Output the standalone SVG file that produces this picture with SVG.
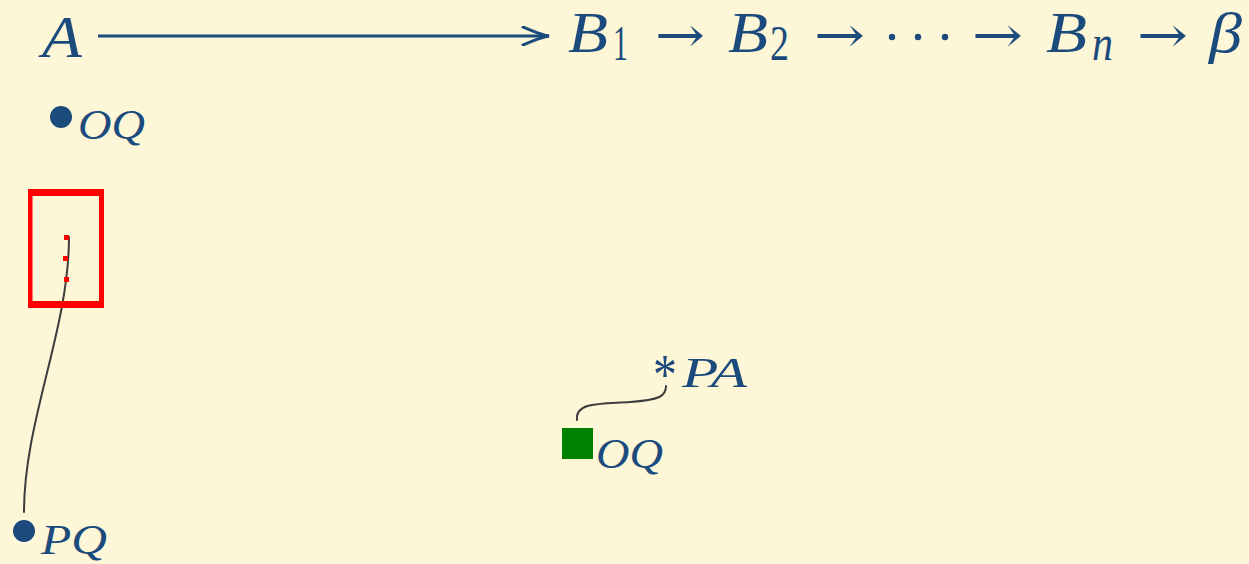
<svg xmlns="http://www.w3.org/2000/svg" width="1249" height="564" viewBox="0 0 1249 564">
<style>
.m{font-family:"Liberation Serif",serif;font-style:italic;fill:#1b4a7c}
.r{font-family:"Liberation Serif",serif;fill:#1b4a7c}
.ar{font-family:"DejaVu Serif",serif;fill:#1b4a7c}
.dot{fill:#1b4a7c}
.conn{fill:none;stroke:#3d3d3d;stroke-width:2;stroke-linecap:round}
</style>
<defs>
<marker id="tex" viewBox="0 0 30 20" refX="28" refY="10" markerWidth="30" markerHeight="20" markerUnits="userSpaceOnUse" orient="auto">
<path d="M2,1 C12,5 20,9 28,10 C20,11 12,15 2,19" fill="none" stroke="#1b4a7c" stroke-width="3" stroke-linecap="round"/>
</marker>
</defs>
<rect width="1249" height="564" fill="#fdf6d7"/>
<g id="connectors">
<line x1="98" y1="36" x2="549" y2="36" stroke="#1b4a7c" stroke-width="3" marker-end="url(#tex)"/>
<path class="conn" d="M69,237 C69,330 24,420 24,512"/>
<path class="conn" d="M577,420 C575,402 600,404 630,402 C660,400 666,396 666,386"/>
</g>
<g id="nodeA">
<text class="m" x="42" y="57" font-size="60" textLength="40" lengthAdjust="spacingAndGlyphs">A</text>
</g>
<g id="nodeChain">
<text class="m" x="568" y="52" font-size="58" textLength="40" lengthAdjust="spacingAndGlyphs">B</text>
<text class="r" x="613" y="60" font-size="50" textLength="15" lengthAdjust="spacingAndGlyphs">1</text>
<text class="ar" x="655" y="52" font-size="50" textLength="50" lengthAdjust="spacingAndGlyphs">→</text>
<text class="m" x="728" y="52" font-size="58" textLength="40" lengthAdjust="spacingAndGlyphs">B</text>
<text class="r" x="770" y="60" font-size="50" textLength="19" lengthAdjust="spacingAndGlyphs">2</text>
<text class="ar" x="814" y="52" font-size="50" textLength="51" lengthAdjust="spacingAndGlyphs">→</text>
<circle class="dot" cx="892" cy="37" r="3.2"/>
<circle class="dot" cx="918" cy="37" r="3.2"/>
<circle class="dot" cx="945" cy="37" r="3.2"/>
<text class="ar" x="972" y="52" font-size="50" textLength="51" lengthAdjust="spacingAndGlyphs">→</text>
<text class="m" x="1046" y="52" font-size="58" textLength="41" lengthAdjust="spacingAndGlyphs">B</text>
<text class="m" x="1092" y="60" font-size="50" textLength="21" lengthAdjust="spacingAndGlyphs">n</text>
<text class="ar" x="1137" y="52" font-size="50" textLength="51" lengthAdjust="spacingAndGlyphs">→</text>
<text class="m" x="1209" y="52" font-size="58" textLength="33" lengthAdjust="spacingAndGlyphs">β</text>
</g>
<g id="nodeOQ1">
<circle class="dot" cx="61" cy="117" r="11"/>
<text class="m" x="78" y="139" font-size="43" textLength="67" lengthAdjust="spacingAndGlyphs">OQ</text>
</g>
<g id="nodeBox">
<path d="M28,189 H104 V308 H28 Z M32.5,196 V301 H99 V196 Z" fill="#ff0000" fill-rule="evenodd"/>
<rect x="64" y="235" width="5" height="5" fill="#ff0000"/>
<rect x="63" y="256" width="5" height="5" fill="#ff0000"/>
<rect x="64" y="277" width="5" height="5" fill="#ff0000"/>
</g>
<g id="nodePQ">
<circle class="dot" cx="24" cy="531" r="11"/>
<text class="m" x="41" y="554" font-size="43" textLength="66" lengthAdjust="spacingAndGlyphs">PQ</text>
</g>
<g id="nodeOQ2">
<rect x="562" y="428" width="31" height="31" fill="#008000"/>
<text class="m" x="596" y="468" font-size="43" textLength="67" lengthAdjust="spacingAndGlyphs">OQ</text>
</g>
<g id="nodePA">
<text class="r" x="653" y="394" font-size="58" textLength="24" lengthAdjust="spacingAndGlyphs">*</text>
<text class="m" x="682" y="387" font-size="43" textLength="65" lengthAdjust="spacingAndGlyphs">PA</text>
</g>
</svg>
